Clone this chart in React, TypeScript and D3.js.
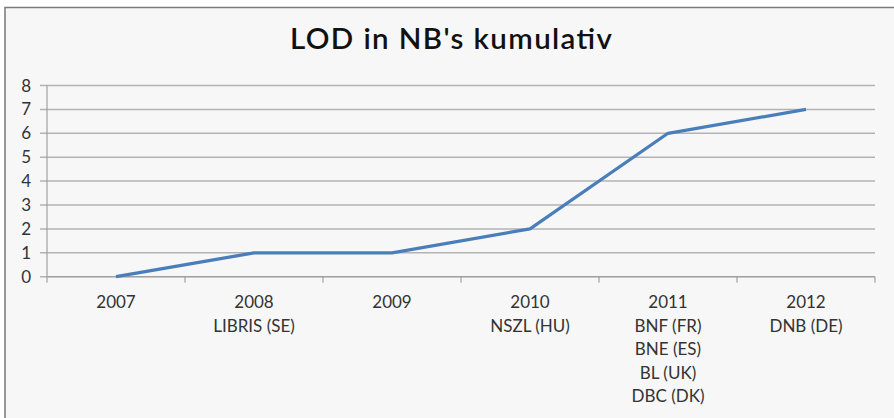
import React from 'react';
import * as d3 from 'd3';

const years = ['2007', '2008', '2009', '2010', '2011', '2012'];
const libraries = [[], ['LIBRIS (SE)'], [], ['NSZL (HU)'], ['BNF (FR)', 'BNE (ES)', 'BL (UK)', 'DBC (DK)'], ['DNB (DE)']];
const cumulative = [0, 1, 1, 2, 6, 7];
const yTicks = [0, 1, 2, 3, 4, 5, 6, 7, 8];

const W = 894;
const H = 418;
const left = 47;
const right = 875;
const top = 85.5;
const bottom = 276.7;
const font = 'Lato, "Noto Sans", sans-serif';
const textColor = '#333333';

const App = () => {
  const x = d3.scaleBand<string>().domain(years).range([left, right]).padding(0);
  const y = d3.scaleLinear().domain([0, 8]).range([bottom, top]);

  const line = d3
    .line<number>()
    .x((d, i) => (x(years[i]) as number) + x.bandwidth() / 2)
    .y((d) => y(d));

  const tickXs = years.map((yr) => x(yr) as number).concat([right]);

  return (
    <svg width={W} height={H} style={{ position: 'absolute', left: 0, top: 0 }}>
      <rect x={0} y={0} width={W} height={H} fill="#ffffff" />
      <rect x={5} y={7.5} width={W + 20} height={H + 20} fill="#f7f7f7" stroke="#7a7a7a" strokeWidth={1.5} />

      <text x={290} y={48.5} fontFamily={font} fontSize={29.5} fontWeight={600} fill="#111"
        textLength={322} lengthAdjust="spacing">
        LOD in NB's kumulativ
      </text>

      {/* gridlines + y axis ticks */}
      {yTicks.map((t) => (
        <g key={t}>
          <line x1={40} x2={right} y1={y(t)} y2={y(t)} stroke="#b3b3b3" strokeWidth={1.5} />
          <text x={31} y={y(t) + 6} textAnchor="end" fontFamily={font} fontSize={17} fill={textColor}>
            {t}
          </text>
        </g>
      ))}
      <line x1={left} x2={left} y1={top} y2={bottom} stroke="#a0a0a0" strokeWidth={1.2} />

      {/* x axis */}
      <line x1={left} x2={right} y1={bottom} y2={bottom} stroke="#a0a0a0" strokeWidth={1.2} />
      {tickXs.map((tx, i) => (
        <line key={i} x1={tx} x2={tx} y1={bottom} y2={bottom + 6} stroke="#a0a0a0" strokeWidth={1.2} />
      ))}
      {years.map((yr, i) => {
        const cx = (x(yr) as number) + x.bandwidth() / 2;
        return (
          <text key={yr} textAnchor="middle" fontFamily={font} fontSize={17} fill={textColor}>
            {[yr, ...libraries[i]].map((s, j) => (
              <tspan key={j} x={cx} y={308 + j * 23.5}>
                {s}
              </tspan>
            ))}
          </text>
        );
      })}

      <path d={line(cumulative) || ''} fill="none" stroke="#4a7ebb" strokeWidth={3.2} strokeLinejoin="round" />
    </svg>
  );
};

export default App;
